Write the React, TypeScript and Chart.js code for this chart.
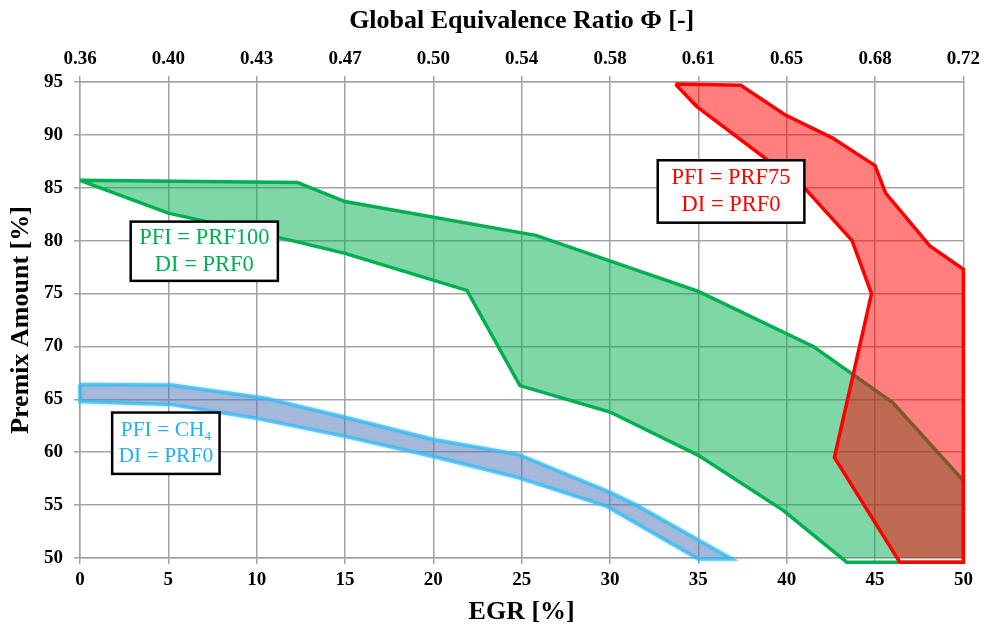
import { useEffect, useRef } from "react";
import { Chart, registerables } from "chart.js";

Chart.register(...registerables);

// Axis ticks
const egrTickValues = [0, 5, 10, 15, 20, 25, 30, 35, 40, 45, 50];
const phiTickLabels = ["0.36", "0.40", "0.43", "0.47", "0.50", "0.54", "0.58", "0.61", "0.65", "0.68", "0.72"];
const premixTickValues = [50, 55, 60, 65, 70, 75, 80, 85, 90, 95];

// PFI = CH4 operating region (closed outline: upper edge, then lower edge back)
const ch4Egr = [0, 5.2, 10.5, 15, 20, 24.8, 30, 31.5, 36.9, 35, 29.8, 24.8, 20, 15, 10, 5.2, 0, 0];
const ch4Premix = [66.4, 66.35, 65.1, 63.3, 61.2, 59.8, 56.2, 55, 49.9, 49.9, 54.9, 57.6, 59.6, 61.5, 63.2, 64.5, 64.8, 66.4];

// PFI = PRF100 operating region
const prf100Egr = [0, 12.3, 15, 25.8, 35, 41.5, 46, 50, 50, 43.4, 39.8, 35, 30, 24.9, 21.9, 15, 12, 5, 0];
const prf100Premix = [85.7, 85.5, 83.7, 80.5, 75.2, 70, 64.7, 57.3, 49.6, 49.6, 54.5, 59.7, 63.8, 66.3, 75.3, 78.8, 80, 82.6, 85.7];

// PFI = PRF75 operating region
const prf75Egr = [33.7, 37.4, 39.9, 42.6, 45, 45.6, 48.1, 50, 50, 46.4, 42.7, 44.8, 43.7, 41, 34.9, 33.7];
const prf75Premix = [94.8, 94.7, 91.9, 89.7, 87.1, 84.5, 79.5, 77.3, 49.6, 49.6, 59.5, 75, 80, 85, 92.7, 94.8];

const SERIF = "'Liberation Serif', 'Times New Roman', serif";

const toPoints = (xs: number[], ys: number[]) => xs.map((x, i) => ({ x, y: ys[i] }));

type Note = {
  lines: { text: string; sub?: string }[];
  color: string;
  x0: number;
  x1: number;
  y0: number;
  y1: number;
  size: number;
  gap: number;
};

const notes: Note[] = [
  {
    lines: [{ text: "PFI = PRF100" }, { text: "DI = PRF0" }],
    color: "#00B050",
    x0: 2.87, x1: 11.2, y0: 81.8, y1: 76.2,
    size: 22.5, gap: 27,
  },
  {
    lines: [{ text: "PFI = PRF75" }, { text: "DI = PRF0" }],
    color: "#FF0000",
    x0: 32.7, x1: 41.0, y0: 87.6, y1: 81.7,
    size: 22.5, gap: 27,
  },
  {
    lines: [{ text: "PFI = CH", sub: "4" }, { text: "DI = PRF0" }],
    color: "#1FB4EA",
    x0: 1.82, x1: 7.9, y0: 63.75, y1: 57.95,
    size: 21.5, gap: 25.5,
  },
];

const notesPlugin = {
  id: "regionNotes",
  afterDatasetsDraw(chart: any) {
    const { ctx, scales } = chart;
    const sx = scales.x;
    const sy = scales.y;
    ctx.save();
    for (const n of notes) {
      const l = sx.getPixelForValue(n.x0);
      const r = sx.getPixelForValue(n.x1);
      const t = sy.getPixelForValue(n.y0);
      const b = sy.getPixelForValue(n.y1);
      ctx.fillStyle = "#ffffff";
      ctx.fillRect(l, t, r - l, b - t);
      ctx.lineWidth = 2.5;
      ctx.strokeStyle = "#000000";
      ctx.strokeRect(l, t, r - l, b - t);
      const cx = (l + r) / 2;
      const cy = (t + b) / 2;
      ctx.fillStyle = n.color;
      ctx.textBaseline = "middle";
      n.lines.forEach((ln, i) => {
        const y = cy + (i - (n.lines.length - 1) / 2) * n.gap;
        ctx.font = `${n.size}px ${SERIF}`;
        const w = ctx.measureText(ln.text).width;
        let subW = 0;
        const subFont = `${Math.round(n.size * 0.62)}px ${SERIF}`;
        if (ln.sub) {
          ctx.font = subFont;
          subW = ctx.measureText(ln.sub).width;
        }
        const start = cx - (w + subW) / 2;
        ctx.font = `${n.size}px ${SERIF}`;
        ctx.textAlign = "left";
        ctx.fillText(ln.text, start, y);
        if (ln.sub) {
          ctx.font = subFont;
          ctx.fillText(ln.sub, start + w, y + n.size * 0.3);
        }
      });
    }
    ctx.restore();
  },
};

// Soft glow around the CH4 band outline
const glowPlugin = {
  id: "bandGlow",
  beforeDatasetDraw(chart: any, args: any) {
    if (args.index === 2) {
      chart.ctx.save();
      chart.ctx.shadowColor = "rgba(60,190,245,0.7)";
      chart.ctx.shadowBlur = 3;
    }
  },
  afterDatasetDraw(chart: any, args: any) {
    if (args.index === 2) chart.ctx.restore();
  },
};

const gridColor = "#a3a3a3";
const tickFont = { family: SERIF, size: 19, weight: "bold" as const };
const titleFont = { family: SERIF, size: 26, weight: "bold" as const };

export default function App() {
  const canvasRef = useRef<HTMLCanvasElement | null>(null);

  useEffect(() => {
    if (!canvasRef.current) return;
    const chart = new Chart(canvasRef.current, {
      type: "line",
      data: {
        datasets: [
          {
            label: "PFI = PRF75, DI = PRF0",
            data: toPoints(prf75Egr, prf75Premix),
            borderColor: "#FF0000",
            backgroundColor: "rgba(255,0,0,0.5)",
            borderWidth: 3.5,
            fill: "shape",
            pointRadius: 0,
            tension: 0,
            clip: false,
          } as any,
          {
            label: "PFI = PRF100, DI = PRF0",
            data: toPoints(prf100Egr, prf100Premix),
            borderColor: "#00B050",
            backgroundColor: "rgba(0,176,80,0.5)",
            borderWidth: 3.5,
            fill: "shape",
            pointRadius: 0,
            tension: 0,
            clip: false,
          } as any,
          {
            label: "PFI = CH4, DI = PRF0",
            data: toPoints(ch4Egr, ch4Premix),
            borderColor: "rgba(50,185,242,0.7)",
            backgroundColor: "rgba(77,115,181,0.5)",
            borderWidth: 3.5,
            fill: "shape",
            pointRadius: 0,
            tension: 0,
            clip: false,
          } as any,
        ],
      },
      options: {
        animation: false,
        responsive: true,
        maintainAspectRatio: false,
        layout: { padding: { left: 0, right: 22, top: 0, bottom: 0 } },
        plugins: {
          legend: { display: false },
          tooltip: { enabled: false },
        },
        scales: {
          x: {
            type: "linear",
            position: "bottom",
            min: egrTickValues[0],
            max: egrTickValues[egrTickValues.length - 1],
            afterBuildTicks: (s: any) => {
              s.ticks = egrTickValues.map((v) => ({ value: v }));
            },
            ticks: { font: tickFont, color: "#000", padding: 5, maxRotation: 0 },
            grid: { color: gridColor, lineWidth: 1.5, tickLength: 6 },
            border: { color: gridColor, width: 1.5 },
            title: { display: true, text: "EGR [%]", font: titleFont, color: "#000", padding: { top: 0, bottom: 2 } },
            afterFit: (s: any) => {
              s.height = 72;
            },
          },
          x2: {
            type: "linear",
            position: "top",
            min: egrTickValues[0],
            max: egrTickValues[egrTickValues.length - 1],
            afterBuildTicks: (s: any) => {
              s.ticks = egrTickValues.map((v) => ({ value: v }));
            },
            ticks: {
              font: tickFont,
              color: "#000",
              padding: 6,
              maxRotation: 0,
              callback: (_v: any, i: number) => phiTickLabels[i],
            },
            grid: { color: gridColor, lineWidth: 1.5, tickLength: 6, drawOnChartArea: false },
            border: { color: gridColor, width: 1.5 },
            title: {
              display: true,
              text: "Global Equivalence Ratio Φ [-]",
              font: titleFont,
              color: "#000",
              padding: { top: 6, bottom: 0 },
            },
            afterFit: (s: any) => {
              s.height = 82;
            },
          },
          y: {
            type: "linear",
            min: premixTickValues[0],
            max: premixTickValues[premixTickValues.length - 1],
            afterBuildTicks: (s: any) => {
              s.ticks = premixTickValues.map((v) => ({ value: v }));
            },
            ticks: { font: tickFont, color: "#000", padding: 11 },
            grid: { color: gridColor, lineWidth: 1.5, tickLength: 6 },
            border: { color: gridColor, width: 1.5 },
            title: {
              display: true,
              text: "Premix Amount [%]",
              font: titleFont,
              color: "#000",
              padding: { top: 6, bottom: 0 },
            },
            afterFit: (s: any) => {
              s.width = 80;
            },
          },
        },
      } as any,
      plugins: [glowPlugin, notesPlugin],
    });
    return () => chart.destroy();
  }, []);

  return (
    <div style={{ position: "fixed", left: 0, top: 0, width: 986, height: 630, background: "#fff" }}>
      <canvas ref={canvasRef} />
    </div>
  );
}
